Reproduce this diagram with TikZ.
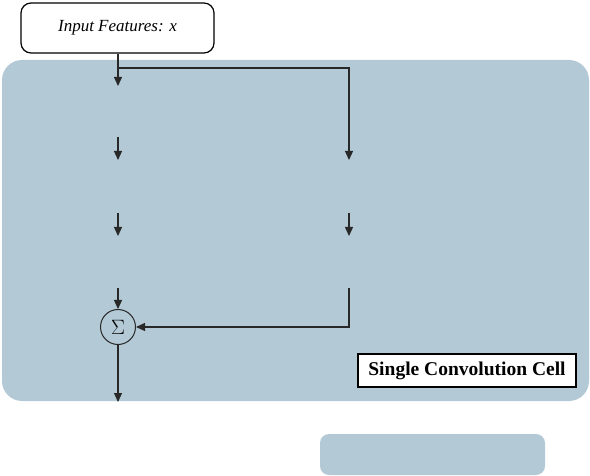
\documentclass[tikz,border=0pt]{standalone}
\usepackage{fontspec}
\setmainfont{Liberation Serif}
\usetikzlibrary{arrows.meta}
\definecolor{cellblue}{RGB}{179,201,213}
\definecolor{linegray}{RGB}{40,40,40}
\tikzset{
  conn/.style={draw=linegray, line width=1.2pt, -{Triangle[length=9pt,width=8pt]}},
  inbox/.style={draw=black, line width=1.2pt, rounded corners=10pt, fill=white, minimum width=193pt, minimum height=50pt, font=\fontsize{17}{19}\selectfont\itshape},
  sumnode/.style={draw=linegray, line width=1pt, circle, minimum size=35pt, inner sep=0pt, font=\fontsize{22}{24}\selectfont},
  labelbox/.style={draw=black, line width=1.2pt, fill=white, minimum width=218pt, minimum height=33pt, font=\fontsize{19.5}{21}\selectfont\bfseries},
}
\begin{document}
\begin{tikzpicture}[x=1pt,y=-1pt]
\useasboundingbox (0,0) rectangle (590,476);
% background panels
\fill[cellblue, rounded corners=20pt] (2,60) rectangle (589,401);
\fill[cellblue, rounded corners=9pt] (320,434) rectangle (545,475);
% nodes
\node[inbox] (in) at (117.5,28) {Input Features: x};
\node[sumnode] (sum) at (118,327) {$\Sigma$};
\node[labelbox] (lab) at (467,370.5) {Single Convolution Cell};
% coordinates
\coordinate (a1) at (118,86);
\coordinate (br) at (118,68);
\coordinate (r1) at (349,160);
\coordinate (a2s) at (118,137);
\coordinate (a2e) at (118,160);
\coordinate (a3s) at (118,213);
\coordinate (a3e) at (118,236);
\coordinate (r2s) at (349,213);
\coordinate (r2e) at (349,236);
\coordinate (a4s) at (118,288);
\coordinate (r3s) at (349,288);
\coordinate (out) at (118,402);
% connectors
\draw[conn] (in.south -| a1) -- (a1);
\draw[conn] (br) -| (r1);
\draw[conn] (a2s) -- (a2e);
\draw[conn] (a3s) -- (a3e);
\draw[conn] (r2s) -- (r2e);
\draw[conn] (a4s) -- (sum.north);
\draw[conn] (r3s) |- (sum.east);
\draw[conn] (sum.south) -- (out);
\end{tikzpicture}
\end{document}
